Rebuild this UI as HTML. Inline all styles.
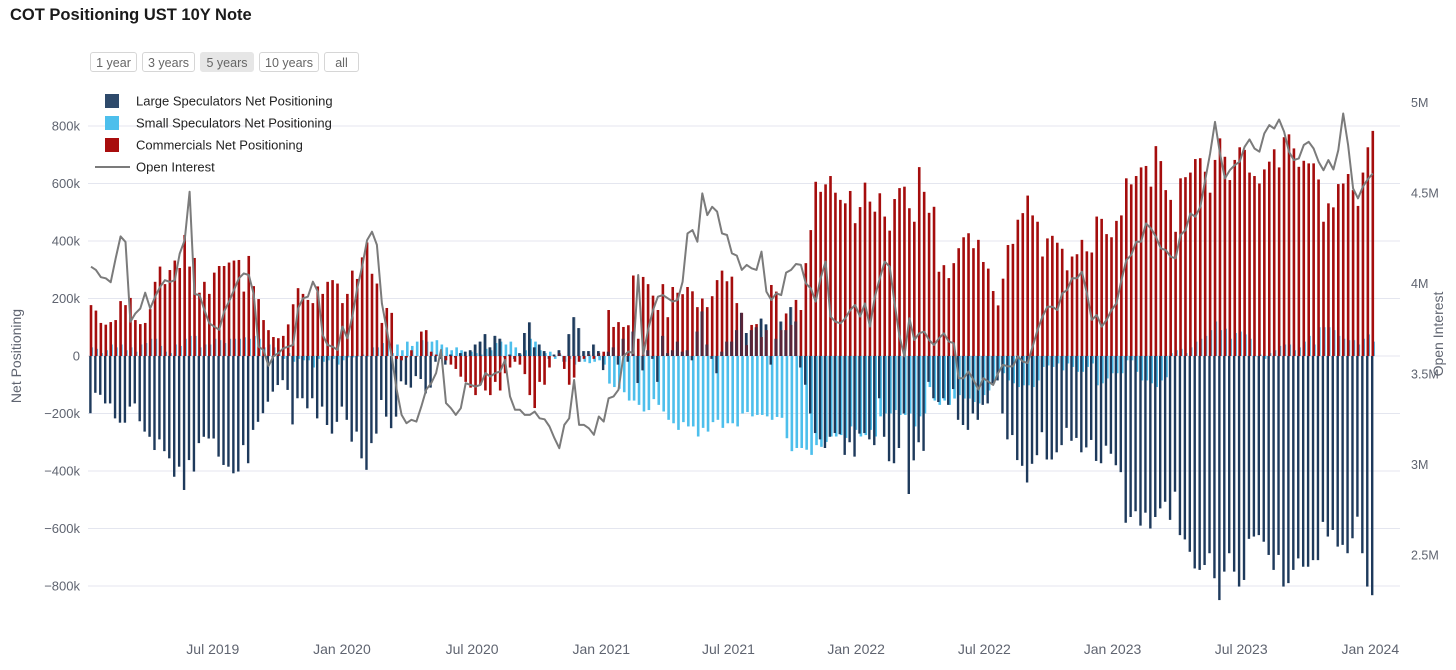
<!DOCTYPE html>
<html><head><meta charset="utf-8">
<style>
body{margin:0;background:#fff;font-family:"Liberation Sans",sans-serif;}
#wrap{position:relative;width:1456px;height:670px;overflow:hidden;}
h1{position:absolute;left:10px;top:6px;margin:0;font-size:16.5px;font-weight:bold;color:#1a1a1a;}
.btn{position:absolute;top:52px;height:20px;line-height:20px;border:1px solid #d6d6d6;border-radius:3px;font-size:12.5px;color:#666;text-align:center;box-sizing:border-box;background:#fff;}
.btn.active{background:#e6e6e6;border-color:#e6e6e6;}
</style></head>
<body>
<div id="wrap">
<h1>COT Positioning UST 10Y Note</h1>
<div class="btn" style="left:90px;width:47px">1 year</div>
<div class="btn" style="left:142px;width:53px">3 years</div>
<div class="btn active" style="left:200px;width:54px">5 years</div>
<div class="btn" style="left:259px;width:60px">10 years</div>
<div class="btn" style="left:324px;width:35px">all</div>
<svg id="chart" width="1456" height="670" style="position:absolute;left:0;top:0"></svg>
</div>
<script>
const leftTicks=[800,600,400,200,0,-200,-400,-600,-800];
const leftTickLabels=["800k","600k","400k","200k","0","−200k","−400k","−600k","−800k"];
const rightTicks=[5,4.5,4,3.5,3,2.5];
const rightTickLabels=["5M","4.5M","4M","3.5M","3M","2.5M"];
const xTickWeeks=[24.7,50.9,77.3,103.5,129.3,155.2,181.2,207.2,233.3,259.5];
const xTickLabels=["Jul 2019","Jan 2020","Jul 2020","Jan 2021","Jul 2021","Jan 2022","Jul 2022","Jan 2023","Jul 2023","Jan 2024"];
const commercials=[177,158,115,109,118,125,191,177,202,125,111,115,163,258,311,250,299,332,306,421,311,341,220,258,216,290,313,313,325,332,334,224,348,243,198,125,90,66,62,70,
110,180,236,
216,195,184,242,216,258,264,252,184,216,297,268,343,395,286,252,115,167,150,
-10,-15,-5,20,0,85,90,15,5,-5,-15,-30,-45,-72,-90,-110,-136,-100,-120,-136,-90,-120,-60,-40,-20,
-30,-63,-136,-181,-90,-100,-40,0,10,-45,-100,-75,-20,-10,5,-10,10,15,
160,101,118,101,107,280,60,275,250,210,160,250,135,240,220,215,240,225,170,200,170,208,264,297,260,
276,184,150,38,108,111,66,90,247,224,90,148,108,195,160,323,438,606,571,597,626,568,543,531,574,462,518,603,537,502,566,485,436,546,584,589,514,467,657,571,498,519,293,316,
271,323,375,413,427,375,404,327,304,226,176,269,386,390,474,497,558,489,467,346,409,418,394,373,298,346,354,404,364,360,485,477,424,413,470,489,618,597,626,656,661,589,730,678,
577,543,432,618,622,638,685,688,641,568,682,757,693,612,682,726,717,638,626,600,649,676,719,656,761,771,722,658,679,670,670,614,467,531,517,598,600,633,577,522,638,726,783];
const largeSpecs=[-199,-128,-135,-165,-165,-217,-232,-232,-176,-165,-227,-263,-281,-327,-290,-331,-356,-420,-385,-466,-362,-402,-303,-281,-287,-287,-350,-379,-385,-408,-402,-310,-373,-257,-229,-199,-159,-124,-101,-84,-118,-238,-147,-147,
-182,-147,-217,-176,-240,-270,-229,-176,-222,-298,-263,-356,-396,-303,-270,-153,-211,-251,-211,-88,-100,-110,-70,-80,-130,-110,
-20,-10,-30,5,-5,10,15,20,40,50,76,30,70,60,-5,5,-10,
10,80,117,30,40,17,-10,5,20,-20,76,135,97,17,17,40,17,-49,
15,30,-30,60,-20,85,-94,-50,20,-10,-90,70,10,20,50,15,20,-15,85,155,40,-10,-60,15,50,
50,90,150,80,90,100,130,110,-30,60,120,90,170,120,-40,-100,-200,-268,-290,-320,-281,-268,-272,-344,-300,-350,-270,-268,-290,-310,-147,-281,-366,-373,-320,-200,-480,-363,-300,-330,-90,-147,-160,-147,
-170,-115,-222,-240,-257,-200,-222,-170,-165,-95,-85,-200,-290,-275,-362,-382,-440,-375,-345,-265,-360,-360,-335,-310,-250,-295,-285,-335,-318,-292,-365,-373,-312,-340,-380,-404,-580,-560,-540,-590,-545,-600,-560,-530,
-507,-570,-472,-623,-638,-681,-739,-744,-727,-686,-773,-849,-750,-686,-750,-802,-779,-636,-628,-623,-646,-692,-744,-692,-802,-790,-744,-704,-733,-733,-710,-710,-577,-628,-605,-663,-657,-686,-634,-559,-686,-802,-832];
const smallSpecs=[30,25,10,20,40,30,40,20,30,15,40,45,60,60,35,15,10,40,35,60,70,70,30,40,40,60,55,45,60,60,60,65,60,70,60,30,40,30,20,-10,10,-20,-10,-15,
-15,-40,-10,-20,-15,-10,-30,-15,-5,-5,0,5,0,30,30,45,55,10,40,20,50,35,50,55,50,50,
55,40,30,20,30,20,0,15,10,5,25,20,45,50,40,50,30,
5,20,60,50,20,10,15,-10,5,-20,-10,-30,-20,-20,-25,-20,-15,-30,
-96,-108,-114,-126,-155,-155,-170,-193,-188,-150,-170,-193,-222,-234,-257,-230,-245,-245,-280,-250,-263,-230,-222,-250,-234,
-234,-245,-200,-195,-210,-205,-205,-210,-222,-212,-215,-286,-331,-320,-320,-326,-344,-310,-316,-299,-280,-280,-275,-285,-245,-257,-280,-275,-257,-280,-210,-200,-200,-188,-205,-205,-200,-245,-210,-200,-108,-155,-170,-155,
-170,-148,-136,-148,-148,-160,-165,-136,-120,-95,-55,-60,-85,-95,-108,-102,-102,-108,-85,-38,-33,-38,-26,-50,-26,-38,-55,-55,-38,-26,-102,-95,-78,-60,-60,-60,-15,-15,-55,-85,-85,-95,-108,-85,
-74,10,20,25,10,30,50,60,70,90,120,90,95,60,80,85,75,60,0,5,-10,10,20,35,40,40,20,30,50,70,40,100,100,100,90,70,60,55,55,40,60,75,50];
const openInterest=[4.093,4.075,4.035,4.029,4.007,4.14,4.26,4.23,3.789,3.835,3.862,3.949,3.862,3.927,3.98,4.018,4.009,4.018,4.165,4.24,4.507,3.942,3.936,3.853,3.78,3.762,3.744,3.844,3.9,3.964,4.029,4.056,4.047,3.942,3.651,3.633,3.545,3.597,3.615,3.642,3.651,3.66,3.862,
3.918,3.927,4.01,3.955,3.715,3.66,3.651,3.633,3.762,3.697,3.817,3.973,4.093,4.24,4.286,4.213,3.89,3.744,3.597,3.413,3.274,3.228,3.247,3.237,3.32,3.413,3.449,3.505,3.633,3.339,3.311,3.274,3.311,3.449,3.44,3.431,3.44,3.505,3.486,3.505,3.514,3.578,3.376,3.302,
3.302,3.274,3.274,3.292,3.255,3.25,3.21,3.146,3.09,3.219,3.255,3.467,3.219,3.219,3.2,3.164,3.265,3.237,3.366,3.376,3.413,3.597,3.624,3.615,4.047,3.606,3.744,3.853,3.927,3.936,3.918,3.9,3.909,4.01,4.277,4.295,4.231,4.498,4.378,4.424,4.397,4.277,
4.268,4.167,4.154,4.075,4.103,4.084,4.075,4.176,3.955,3.909,3.946,3.936,4.06,4.075,4.108,4.103,4.001,3.973,3.9,4.029,4.121,3.817,3.789,3.78,3.808,3.853,3.881,3.817,3.89,3.762,3.927,4.029,4.121,4.093,3.89,3.707,3.597,3.808,3.688,3.725,3.734,3.688,3.66,3.697,3.725,3.679,
3.67,3.477,3.477,3.514,3.467,3.413,3.477,3.458,3.44,3.505,3.551,3.542,3.542,3.597,3.569,3.56,3.651,3.744,3.817,3.872,3.872,3.853,3.946,3.964,4.029,4.029,4.065,3.946,3.799,3.826,3.762,3.799,3.853,3.89,4.018,4.129,4.157,4.231,4.231,4.332,4.304,4.258,4.194,
4.185,4.148,4.139,4.268,4.295,4.387,4.369,4.424,4.571,4.718,4.893,4.718,4.58,4.626,4.654,4.673,4.755,4.796,4.746,4.728,4.829,4.875,4.856,4.906,4.838,4.728,4.682,4.691,4.765,4.783,4.746,4.673,4.626,4.682,4.63,4.737,4.939,4.765,4.525,4.47,4.535,4.577,4.608];

const NS="http://www.w3.org/2000/svg";
const svg=document.getElementById('chart');
const X0=91, STEP=4.93, PL=88, PR=1400;
function xScale(i){return X0+i*STEP;}
function yL(v){return 356-v*0.2875;}
function yR(v){return 374-(v-3.5)*181;}
function mk(tag,attrs){const e=document.createElementNS(NS,tag);for(const k in attrs)e.setAttribute(k,attrs[k]);return e;}

const grid=mk('g',{});


svg.appendChild(grid);
leftTicks.forEach((t,k)=>{
  const y=yL(t);
  const ln=mk('line',{x1:PL,x2:PR,y1:y,y2:y,stroke:'#e4e6ef','stroke-width':1});
  
  
  grid.appendChild(ln);
  const tx=mk('text',{x:80,y:y+4.5,'text-anchor':'end','font-size':13,fill:'#5f6470'});
  tx.textContent=leftTickLabels[k];
  
  
  svg.appendChild(tx);
});
rightTicks.forEach((t,k)=>{
  const tx=mk('text',{x:1411,y:yR(t)+4.5,'font-size':12.5,fill:'#5f6470'});
  tx.textContent=rightTickLabels[k];
  
  
  svg.appendChild(tx);
});
xTickWeeks.forEach((w,k)=>{
  const tx=mk('text',{x:xScale(w),y:654,'text-anchor':'middle','font-size':14,fill:'#5f6470'});
  tx.textContent=xTickLabels[k];
  
  
  svg.appendChild(tx);
});
const yt=mk('text',{x:0,y:0,'text-anchor':'middle','font-size':14,fill:'#5f6470',transform:'translate(21,356) rotate(-90)'});
yt.textContent='Net Positioning';


svg.appendChild(yt);
const yt2=mk('text',{x:0,y:0,'text-anchor':'middle','font-size':14,fill:'#5f6470',transform:'translate(1443,334) rotate(-90)'});
yt2.textContent='Open Interest';


svg.appendChild(yt2);

function drawBars(arr,color,op,name,dx,w,onlyPos){
  const g=mk('g',{});
  
  
  arr.forEach((v,i)=>{
    if(onlyPos && v<=0) return;
    const y0=yL(0),y1=yL(v);
    const r=mk('rect',{x:xScale(i)+dx,width:w,y:Math.min(y0,y1),height:Math.max(0.5,Math.abs(y1-y0)),fill:color,'fill-opacity':op});
    
    
    g.appendChild(r);
  });
  svg.appendChild(g);
}
drawBars(smallSpecs,'#4dbfec',1,'small-speculators',-0.5,2.6,false);
drawBars(largeSpecs,'#1e3a5c',1,'large-speculators',-1.8,2.4,false);
drawBars(commercials,'#a50d0d',1,'commercials',-1.3,2.6,false);
drawBars(largeSpecs,'#1e3a5c',0.55,'large-speculators-overlap',-1.3,2.6,true);

let d='';
openInterest.forEach((v,i)=>{d+=(i?'L':'M')+xScale(i).toFixed(1)+','+yR(v).toFixed(1);});
const oi=mk('path',{d:d,fill:'none',stroke:'#7b7b7b','stroke-width':2,'stroke-linejoin':'round'});


svg.appendChild(oi);

const legend=mk('g',{});


svg.appendChild(legend);
const legColors=['#2e4a6b','#4dbfec','#a80d0d'];
const legNames=['Large Speculators Net Positioning','Small Speculators Net Positioning','Commercials Net Positioning','Open Interest'];
legNames.forEach((n,k)=>{
  const cy=101+k*22;
  const g=mk('g',{});
  
  
  if(k<3){
    const r=mk('rect',{x:105,y:cy-7,width:14,height:14,fill:legColors[k]});
    
    
    g.appendChild(r);
  } else {
    const l=mk('line',{x1:95,x2:130,y1:cy,y2:cy,stroke:'#7b7b7b','stroke-width':2});
    
    
    g.appendChild(l);
  }
  const t=mk('text',{x:136,y:cy+4.5,'font-size':13,fill:'#222'});
  t.textContent=n;
  
  
  g.appendChild(t);
  legend.appendChild(g);
});
</script>
</body></html>
